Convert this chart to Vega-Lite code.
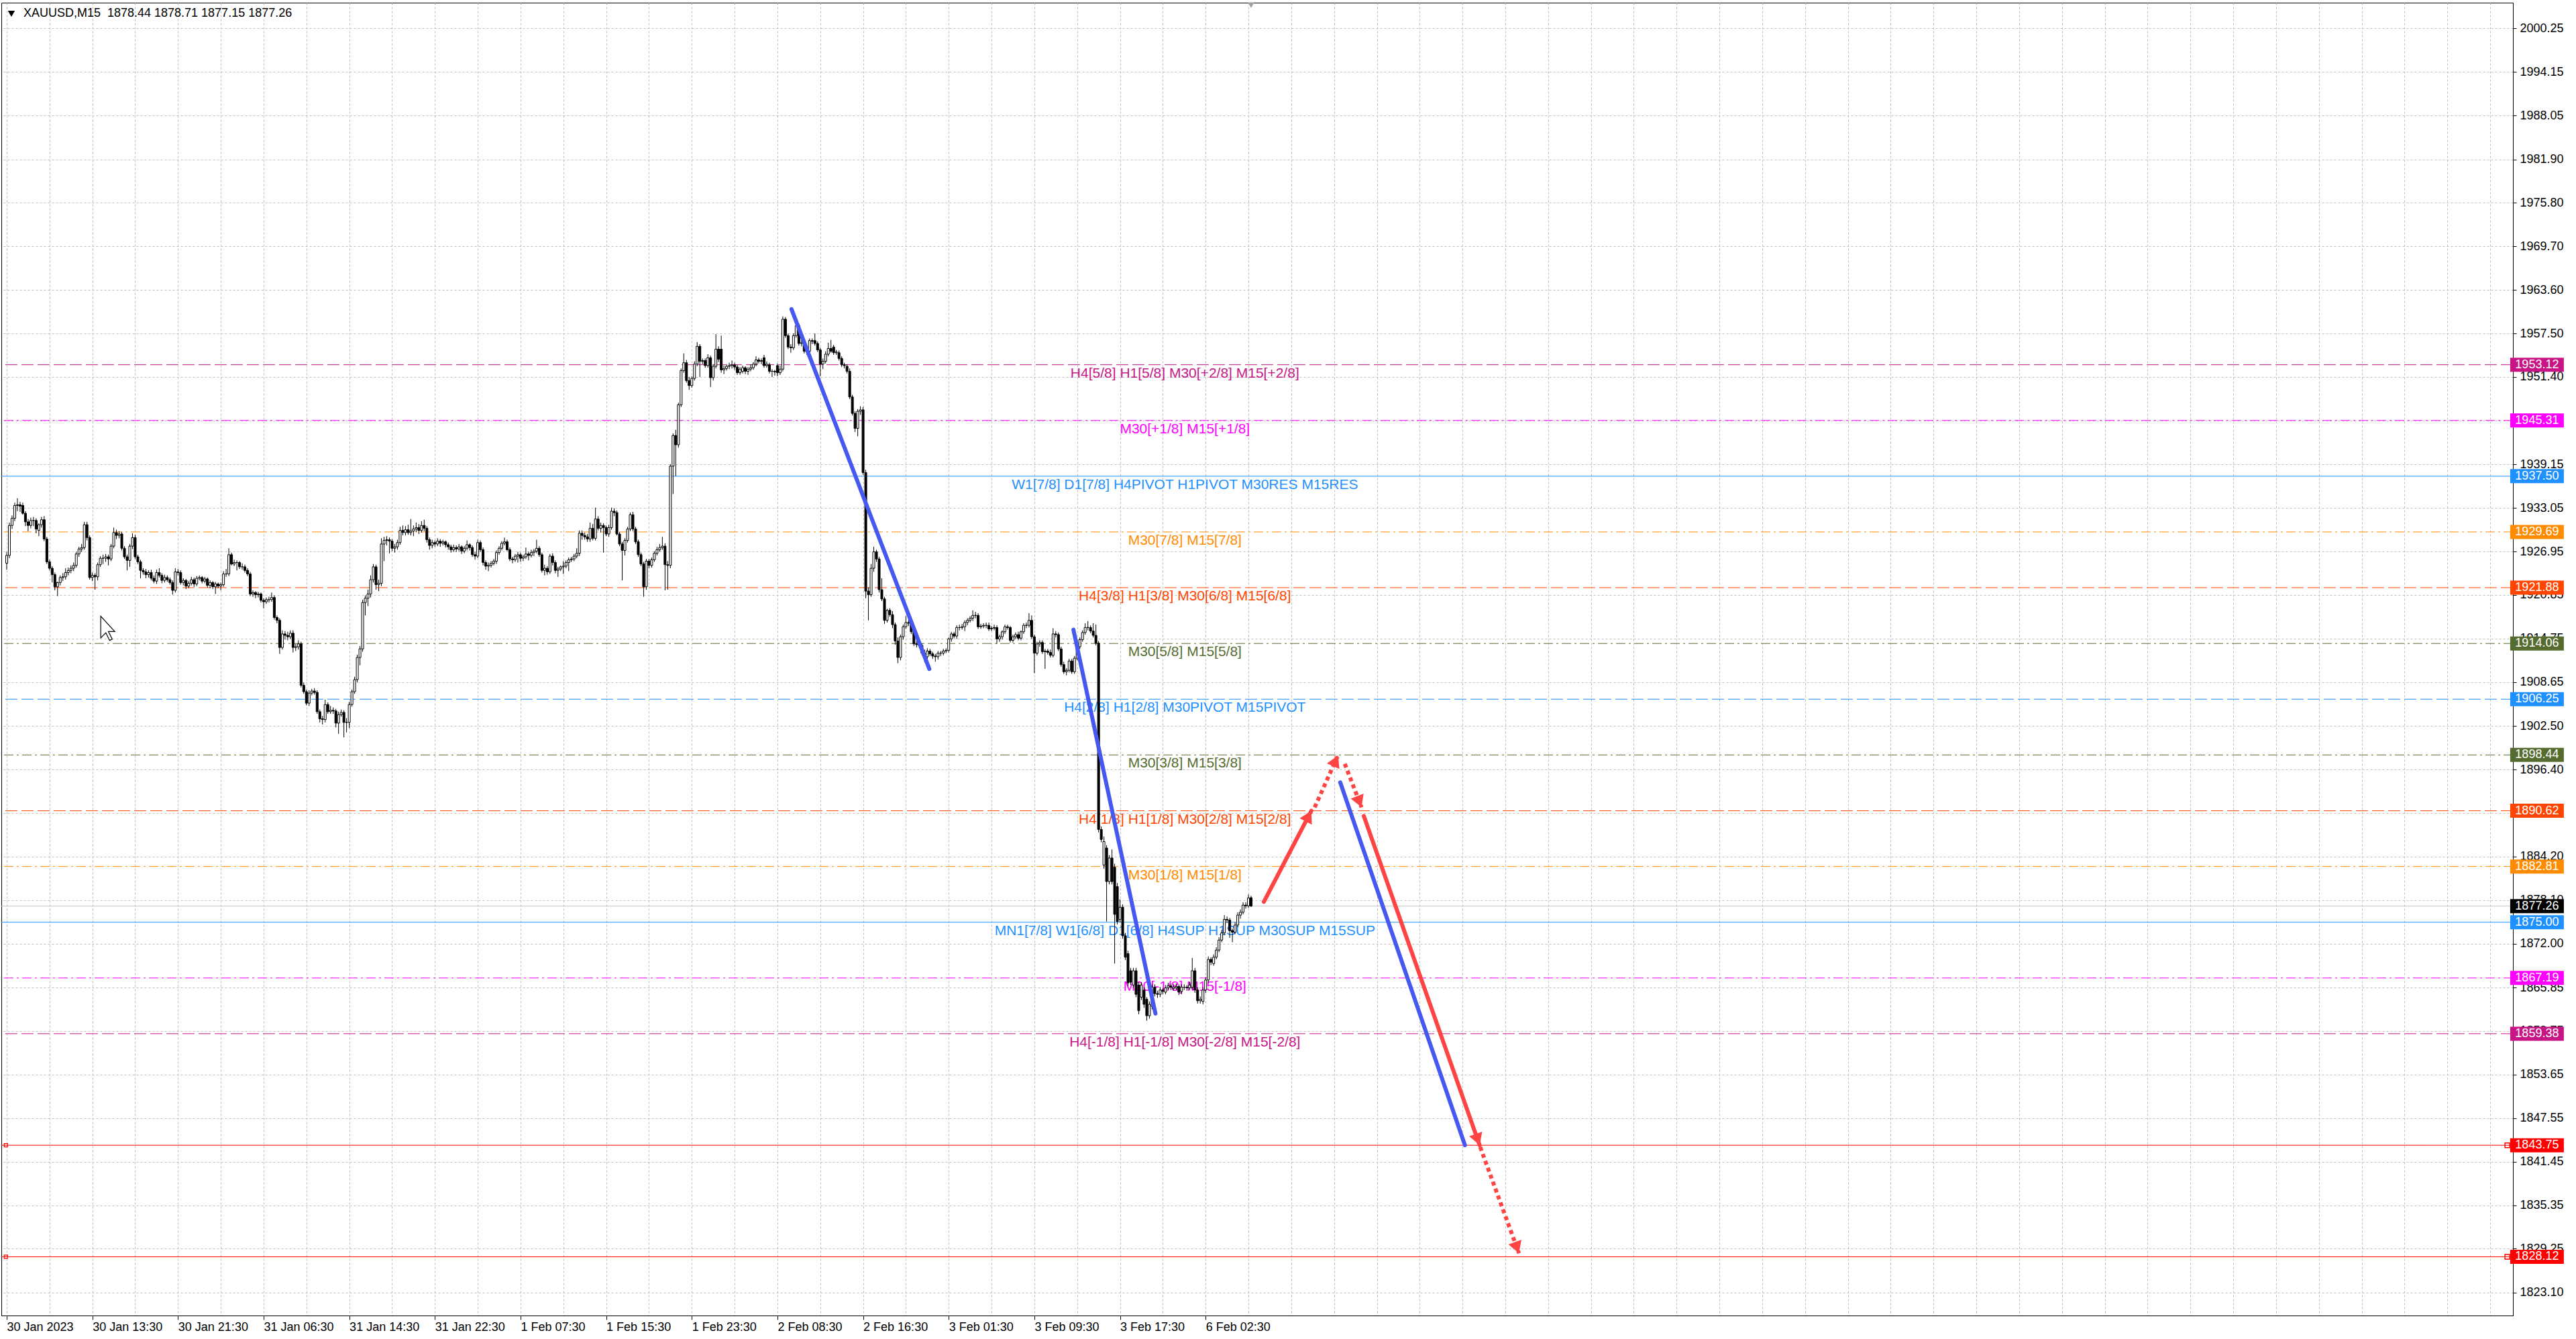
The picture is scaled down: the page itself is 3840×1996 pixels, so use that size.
{
"$schema":"https://vega.github.io/schema/vega-lite/v6.json",
"width":3744,"height":1957,
"autosize":{"type":"none"},
"padding":{"left":2,"top":4,"right":94,"bottom":35},
"background":"white",
"config":{"view":{"stroke":"black","strokeWidth":1},"font":"Liberation Sans"},
"datasets":{
"bars":[
{"i":0,"o":1925.3,"h":1926.9,"l":1924.4,"c":1926.4},{"i":1,"o":1926.4,"h":1931.0,"l":1926.0,"c":1930.6},{"i":2,"o":1930.6,"h":1932.0,"l":1930.1,"c":1931.6},{"i":3,"o":1931.6,"h":1933.8,"l":1931.2,"c":1933.4},{"i":4,"o":1933.4,"h":1934.4,"l":1932.6,"c":1933.5},{"i":5,"o":1933.5,"h":1933.9,"l":1932.5,"c":1933.3},{"i":6,"o":1933.4,"h":1933.8,"l":1932.1,"c":1932.3},{"i":7,"o":1932.3,"h":1932.6,"l":1930.5,"c":1931.1},{"i":8,"o":1931.1,"h":1931.5,"l":1929.8,"c":1930.6},{"i":9,"o":1930.6,"h":1931.7,"l":1930.2,"c":1931.3},
{"i":10,"o":1931.3,"h":1931.8,"l":1930.5,"c":1931.3},{"i":11,"o":1931.3,"h":1931.6,"l":1929.5,"c":1930.1},{"i":12,"o":1929.9,"h":1930.9,"l":1929.1,"c":1930.7},{"i":13,"o":1930.7,"h":1931.8,"l":1930.3,"c":1931.4},{"i":14,"o":1931.4,"h":1931.9,"l":1928.4,"c":1928.7},{"i":15,"o":1928.7,"h":1929.0,"l":1925.2,"c":1925.5},{"i":16,"o":1925.5,"h":1925.8,"l":1924.3,"c":1924.6},{"i":17,"o":1924.6,"h":1924.9,"l":1922.6,"c":1923.7},{"i":18,"o":1923.7,"h":1924.0,"l":1921.5,"c":1922.0},{"i":19,"o":1922.0,"h":1922.7,"l":1920.7,"c":1922.6},
{"i":20,"o":1922.6,"h":1923.6,"l":1922.2,"c":1923.3},{"i":21,"o":1923.3,"h":1923.9,"l":1922.8,"c":1923.4},{"i":22,"o":1923.4,"h":1924.6,"l":1923.0,"c":1924.0},{"i":23,"o":1924.0,"h":1924.7,"l":1923.6,"c":1924.3},{"i":24,"o":1924.3,"h":1925.0,"l":1923.9,"c":1924.6},{"i":25,"o":1924.6,"h":1925.4,"l":1924.2,"c":1925.0},{"i":26,"o":1925.0,"h":1926.9,"l":1924.7,"c":1926.6},{"i":27,"o":1926.6,"h":1927.6,"l":1926.2,"c":1927.3},{"i":28,"o":1927.3,"h":1928.0,"l":1926.9,"c":1927.5},{"i":29,"o":1927.5,"h":1931.1,"l":1927.2,"c":1930.7},
{"i":30,"o":1930.7,"h":1931.1,"l":1928.5,"c":1928.9},{"i":31,"o":1928.9,"h":1929.2,"l":1923.0,"c":1923.3},{"i":32,"o":1923.3,"h":1924.0,"l":1922.8,"c":1923.6},{"i":33,"o":1923.6,"h":1923.9,"l":1921.6,"c":1923.4},{"i":34,"o":1923.4,"h":1925.4,"l":1922.9,"c":1925.1},{"i":35,"o":1925.1,"h":1926.3,"l":1924.8,"c":1926.0},{"i":36,"o":1926.0,"h":1926.5,"l":1925.2,"c":1926.0},{"i":37,"o":1926.0,"h":1926.6,"l":1925.5,"c":1926.2},{"i":38,"o":1926.2,"h":1926.5,"l":1925.0,"c":1925.9},{"i":39,"o":1925.9,"h":1928.0,"l":1925.6,"c":1927.7},
{"i":40,"o":1927.7,"h":1930.3,"l":1927.4,"c":1929.6},{"i":41,"o":1929.6,"h":1930.0,"l":1928.7,"c":1929.2},{"i":42,"o":1929.2,"h":1929.8,"l":1928.8,"c":1929.4},{"i":43,"o":1929.4,"h":1929.7,"l":1927.1,"c":1927.4},{"i":44,"o":1927.4,"h":1927.7,"l":1925.9,"c":1926.2},{"i":45,"o":1926.2,"h":1926.5,"l":1924.3,"c":1925.7},{"i":46,"o":1925.7,"h":1928.0,"l":1924.8,"c":1927.7},{"i":47,"o":1927.7,"h":1929.5,"l":1927.3,"c":1928.9},{"i":48,"o":1928.9,"h":1929.3,"l":1925.9,"c":1926.2},{"i":49,"o":1926.2,"h":1926.5,"l":1925.2,"c":1925.5},
{"i":50,"o":1925.5,"h":1925.8,"l":1923.2,"c":1924.3},{"i":51,"o":1924.3,"h":1924.6,"l":1923.7,"c":1924.1},{"i":52,"o":1924.1,"h":1924.5,"l":1923.2,"c":1923.7},{"i":53,"o":1923.7,"h":1924.3,"l":1923.3,"c":1924.0},{"i":54,"o":1924.0,"h":1924.4,"l":1922.9,"c":1923.2},{"i":55,"o":1923.2,"h":1923.6,"l":1922.5,"c":1922.8},{"i":56,"o":1922.8,"h":1924.4,"l":1922.4,"c":1924.0},{"i":57,"o":1924.0,"h":1924.6,"l":1923.3,"c":1923.6},{"i":58,"o":1923.6,"h":1923.9,"l":1922.5,"c":1922.9},{"i":59,"o":1922.9,"h":1923.7,"l":1922.6,"c":1923.3},
{"i":60,"o":1923.3,"h":1923.6,"l":1922.7,"c":1923.0},{"i":61,"o":1923.0,"h":1923.3,"l":1922.3,"c":1922.6},{"i":62,"o":1922.6,"h":1922.9,"l":1920.9,"c":1921.5},{"i":63,"o":1921.5,"h":1924.6,"l":1921.2,"c":1924.1},{"i":64,"o":1924.1,"h":1924.5,"l":1923.6,"c":1924.0},{"i":65,"o":1924.0,"h":1924.3,"l":1922.3,"c":1922.6},{"i":66,"o":1922.6,"h":1923.2,"l":1922.2,"c":1922.9},{"i":67,"o":1922.9,"h":1923.1,"l":1921.7,"c":1922.1},{"i":68,"o":1922.1,"h":1922.8,"l":1921.8,"c":1922.5},{"i":69,"o":1922.5,"h":1923.4,"l":1922.2,"c":1923.0},
{"i":70,"o":1923.0,"h":1923.3,"l":1922.0,"c":1922.4},{"i":71,"o":1922.4,"h":1923.5,"l":1922.1,"c":1923.2},{"i":72,"o":1923.2,"h":1923.6,"l":1922.9,"c":1923.3},{"i":73,"o":1923.3,"h":1923.5,"l":1922.5,"c":1922.8},{"i":74,"o":1922.8,"h":1923.4,"l":1922.5,"c":1923.1},{"i":75,"o":1923.1,"h":1923.3,"l":1921.9,"c":1922.2},{"i":76,"o":1922.2,"h":1922.9,"l":1921.8,"c":1922.6},{"i":77,"o":1922.6,"h":1922.8,"l":1921.7,"c":1922.0},{"i":78,"o":1922.0,"h":1922.7,"l":1921.0,"c":1922.4},{"i":79,"o":1922.4,"h":1922.6,"l":1921.8,"c":1922.1},
{"i":80,"o":1922.1,"h":1922.6,"l":1921.5,"c":1922.3},{"i":81,"o":1922.3,"h":1924.2,"l":1922.0,"c":1923.8},{"i":82,"o":1923.8,"h":1924.5,"l":1923.4,"c":1923.8},{"i":83,"o":1923.8,"h":1927.4,"l":1923.5,"c":1926.5},{"i":84,"o":1926.5,"h":1926.8,"l":1925.0,"c":1925.2},{"i":85,"o":1925.2,"h":1925.8,"l":1924.9,"c":1925.4},{"i":86,"o":1925.4,"h":1925.7,"l":1924.3,"c":1925.4},{"i":87,"o":1925.4,"h":1925.6,"l":1924.5,"c":1924.8},{"i":88,"o":1924.8,"h":1925.3,"l":1924.4,"c":1924.8},{"i":89,"o":1924.8,"h":1925.1,"l":1924.0,"c":1924.3},
{"i":90,"o":1924.3,"h":1924.6,"l":1923.5,"c":1923.8},{"i":91,"o":1923.8,"h":1924.1,"l":1920.7,"c":1921.0},{"i":92,"o":1921.0,"h":1921.5,"l":1920.6,"c":1921.2},{"i":93,"o":1921.2,"h":1921.4,"l":1920.4,"c":1920.9},{"i":94,"o":1920.9,"h":1921.3,"l":1920.5,"c":1921.0},{"i":95,"o":1921.0,"h":1921.2,"l":1919.8,"c":1920.1},{"i":96,"o":1920.1,"h":1920.4,"l":1919.0,"c":1919.9},{"i":97,"o":1919.9,"h":1920.5,"l":1919.6,"c":1920.2},{"i":98,"o":1920.2,"h":1920.6,"l":1919.8,"c":1920.2},{"i":99,"o":1920.2,"h":1921.2,"l":1919.9,"c":1920.5},
{"i":100,"o":1920.5,"h":1920.8,"l":1917.4,"c":1917.7},{"i":101,"o":1917.7,"h":1918.0,"l":1916.9,"c":1917.3},{"i":102,"o":1917.3,"h":1917.6,"l":1912.6,"c":1913.5},{"i":103,"o":1913.5,"h":1915.9,"l":1913.2,"c":1915.4},{"i":104,"o":1915.4,"h":1915.8,"l":1914.6,"c":1915.2},{"i":105,"o":1915.2,"h":1915.7,"l":1914.5,"c":1915.0},{"i":106,"o":1915.0,"h":1915.9,"l":1914.7,"c":1915.5},{"i":107,"o":1915.5,"h":1915.9,"l":1912.8,"c":1913.5},{"i":108,"o":1913.5,"h":1914.0,"l":1913.0,"c":1913.6},{"i":109,"o":1913.6,"h":1914.5,"l":1913.2,"c":1914.0},
{"i":110,"o":1914.0,"h":1914.3,"l":1907.9,"c":1908.2},{"i":111,"o":1908.2,"h":1908.6,"l":1907.0,"c":1907.3},{"i":112,"o":1907.3,"h":1907.6,"l":1905.4,"c":1905.7},{"i":113,"o":1905.7,"h":1907.5,"l":1905.3,"c":1907.1},{"i":114,"o":1907.1,"h":1907.7,"l":1906.8,"c":1907.4},{"i":115,"o":1907.4,"h":1907.8,"l":1906.9,"c":1907.2},{"i":116,"o":1907.2,"h":1907.5,"l":1904.2,"c":1904.5},{"i":117,"o":1904.5,"h":1904.8,"l":1903.0,"c":1903.5},{"i":118,"o":1903.5,"h":1903.9,"l":1902.7,"c":1903.4},{"i":119,"o":1903.4,"h":1906.2,"l":1903.0,"c":1905.5},
{"i":120,"o":1905.5,"h":1905.8,"l":1904.2,"c":1904.5},{"i":121,"o":1904.5,"h":1905.3,"l":1904.2,"c":1904.7},{"i":122,"o":1904.7,"h":1905.1,"l":1904.2,"c":1904.6},{"i":123,"o":1904.6,"h":1904.9,"l":1902.3,"c":1902.9},{"i":124,"o":1902.9,"h":1904.5,"l":1901.4,"c":1904.1},{"i":125,"o":1904.1,"h":1904.8,"l":1903.8,"c":1904.4},{"i":126,"o":1904.4,"h":1904.7,"l":1900.9,"c":1903.0},{"i":127,"o":1903.0,"h":1903.6,"l":1901.6,"c":1903.0},{"i":128,"o":1903.0,"h":1905.9,"l":1902.2,"c":1905.5},{"i":129,"o":1905.5,"h":1907.6,"l":1905.2,"c":1907.3},
{"i":130,"o":1907.3,"h":1909.4,"l":1907.0,"c":1909.0},{"i":131,"o":1909.0,"h":1912.5,"l":1908.6,"c":1912.1},{"i":132,"o":1912.1,"h":1913.7,"l":1911.0,"c":1913.3},{"i":133,"o":1913.3,"h":1920.2,"l":1912.9,"c":1919.8},{"i":134,"o":1919.8,"h":1920.8,"l":1918.0,"c":1920.4},{"i":135,"o":1920.4,"h":1921.6,"l":1919.3,"c":1921.0},{"i":136,"o":1921.0,"h":1923.6,"l":1920.5,"c":1923.0},{"i":137,"o":1923.0,"h":1925.2,"l":1922.6,"c":1924.8},{"i":138,"o":1924.8,"h":1925.1,"l":1921.6,"c":1922.3},{"i":139,"o":1922.3,"h":1923.0,"l":1921.4,"c":1922.5},
{"i":140,"o":1922.5,"h":1928.8,"l":1922.1,"c":1928.0},{"i":141,"o":1928.0,"h":1929.0,"l":1925.6,"c":1928.5},{"i":142,"o":1928.5,"h":1929.1,"l":1927.8,"c":1928.6},{"i":143,"o":1928.6,"h":1928.9,"l":1926.7,"c":1928.4},{"i":144,"o":1928.4,"h":1928.7,"l":1927.0,"c":1927.4},{"i":145,"o":1927.4,"h":1928.0,"l":1926.8,"c":1927.6},{"i":146,"o":1927.6,"h":1928.6,"l":1927.2,"c":1928.2},{"i":147,"o":1928.2,"h":1930.4,"l":1927.9,"c":1929.9},{"i":148,"o":1929.9,"h":1930.6,"l":1929.2,"c":1929.6},{"i":149,"o":1929.6,"h":1930.5,"l":1929.2,"c":1930.0},
{"i":150,"o":1930.0,"h":1930.7,"l":1929.3,"c":1929.6},{"i":151,"o":1929.6,"h":1931.5,"l":1929.2,"c":1929.8},{"i":152,"o":1929.8,"h":1930.6,"l":1929.1,"c":1930.1},{"i":153,"o":1930.1,"h":1931.0,"l":1929.7,"c":1930.3},{"i":154,"o":1930.3,"h":1930.8,"l":1929.4,"c":1929.9},{"i":155,"o":1929.9,"h":1931.2,"l":1929.6,"c":1930.6},{"i":156,"o":1930.6,"h":1931.4,"l":1929.8,"c":1930.2},{"i":157,"o":1930.2,"h":1930.5,"l":1928.2,"c":1928.6},{"i":158,"o":1928.6,"h":1928.9,"l":1927.2,"c":1927.8},{"i":159,"o":1927.8,"h":1928.6,"l":1927.4,"c":1928.2},
{"i":160,"o":1928.2,"h":1928.5,"l":1927.6,"c":1928.0},{"i":161,"o":1928.0,"h":1928.8,"l":1927.7,"c":1928.4},{"i":162,"o":1928.4,"h":1928.7,"l":1927.6,"c":1928.1},{"i":163,"o":1928.1,"h":1928.6,"l":1927.8,"c":1928.3},{"i":164,"o":1928.3,"h":1928.5,"l":1927.5,"c":1927.9},{"i":165,"o":1927.9,"h":1928.2,"l":1927.2,"c":1927.6},{"i":166,"o":1927.6,"h":1927.9,"l":1926.8,"c":1927.2},{"i":167,"o":1927.2,"h":1927.9,"l":1926.9,"c":1927.5},{"i":168,"o":1927.5,"h":1927.8,"l":1926.9,"c":1927.3},{"i":169,"o":1927.3,"h":1928.0,"l":1927.0,"c":1927.6},
{"i":170,"o":1927.6,"h":1927.8,"l":1926.6,"c":1927.0},{"i":171,"o":1927.0,"h":1927.7,"l":1926.7,"c":1927.4},{"i":172,"o":1927.4,"h":1928.5,"l":1927.1,"c":1927.9},{"i":173,"o":1927.9,"h":1928.1,"l":1927.1,"c":1927.5},{"i":174,"o":1927.5,"h":1927.8,"l":1926.2,"c":1926.5},{"i":175,"o":1926.5,"h":1926.9,"l":1925.8,"c":1926.3},{"i":176,"o":1926.3,"h":1928.6,"l":1926.0,"c":1928.2},{"i":177,"o":1928.2,"h":1928.5,"l":1926.9,"c":1927.2},{"i":178,"o":1927.2,"h":1927.5,"l":1925.0,"c":1925.4},{"i":179,"o":1925.4,"h":1925.7,"l":1924.4,"c":1924.9},
{"i":180,"o":1924.9,"h":1925.4,"l":1924.2,"c":1925.0},{"i":181,"o":1925.0,"h":1925.6,"l":1924.7,"c":1925.3},{"i":182,"o":1925.3,"h":1925.9,"l":1925.0,"c":1925.6},{"i":183,"o":1925.6,"h":1927.1,"l":1925.2,"c":1926.8},{"i":184,"o":1926.8,"h":1927.7,"l":1926.5,"c":1927.4},{"i":185,"o":1927.4,"h":1928.4,"l":1927.1,"c":1928.1},{"i":186,"o":1928.1,"h":1928.9,"l":1927.8,"c":1928.3},{"i":187,"o":1928.3,"h":1928.6,"l":1927.0,"c":1927.2},{"i":188,"o":1927.2,"h":1927.5,"l":1925.6,"c":1925.9},{"i":189,"o":1925.9,"h":1926.2,"l":1925.3,"c":1925.8},
{"i":190,"o":1925.8,"h":1926.6,"l":1925.5,"c":1926.3},{"i":191,"o":1926.3,"h":1926.9,"l":1925.4,"c":1926.5},{"i":192,"o":1926.5,"h":1926.8,"l":1925.5,"c":1926.0},{"i":193,"o":1926.0,"h":1926.5,"l":1925.6,"c":1926.2},{"i":194,"o":1926.2,"h":1927.5,"l":1925.9,"c":1926.6},{"i":195,"o":1926.6,"h":1926.9,"l":1925.7,"c":1926.4},{"i":196,"o":1926.4,"h":1927.2,"l":1926.1,"c":1926.8},{"i":197,"o":1926.8,"h":1927.3,"l":1926.3,"c":1927.0},{"i":198,"o":1927.0,"h":1928.6,"l":1926.7,"c":1927.4},{"i":199,"o":1927.4,"h":1927.7,"l":1926.2,"c":1926.5},
{"i":200,"o":1926.5,"h":1926.8,"l":1924.0,"c":1924.3},{"i":201,"o":1924.3,"h":1925.1,"l":1923.6,"c":1924.6},{"i":202,"o":1924.6,"h":1924.9,"l":1923.7,"c":1924.1},{"i":203,"o":1924.1,"h":1926.6,"l":1923.8,"c":1926.3},{"i":204,"o":1926.3,"h":1926.7,"l":1925.0,"c":1925.4},{"i":205,"o":1925.4,"h":1925.7,"l":1923.9,"c":1924.3},{"i":206,"o":1924.3,"h":1924.8,"l":1923.4,"c":1924.5},{"i":207,"o":1924.5,"h":1925.0,"l":1924.2,"c":1924.8},{"i":208,"o":1924.8,"h":1925.6,"l":1923.8,"c":1924.9},{"i":209,"o":1924.9,"h":1925.7,"l":1924.6,"c":1925.4},
{"i":210,"o":1925.4,"h":1926.1,"l":1924.2,"c":1925.8},{"i":211,"o":1925.8,"h":1926.2,"l":1925.5,"c":1925.9},{"i":212,"o":1925.9,"h":1926.6,"l":1925.6,"c":1926.3},{"i":213,"o":1926.3,"h":1927.4,"l":1926.0,"c":1926.7},{"i":214,"o":1926.7,"h":1929.9,"l":1926.3,"c":1929.5},{"i":215,"o":1929.5,"h":1929.9,"l":1928.6,"c":1929.2},{"i":216,"o":1929.2,"h":1929.6,"l":1928.6,"c":1929.0},{"i":217,"o":1929.0,"h":1929.4,"l":1928.3,"c":1928.7},{"i":218,"o":1928.7,"h":1931.0,"l":1928.3,"c":1930.2},{"i":219,"o":1930.2,"h":1930.8,"l":1928.5,"c":1928.8},
{"i":220,"o":1928.8,"h":1933.1,"l":1928.5,"c":1931.5},{"i":221,"o":1931.5,"h":1931.9,"l":1929.9,"c":1930.2},{"i":222,"o":1930.2,"h":1931.0,"l":1929.6,"c":1930.6},{"i":223,"o":1930.6,"h":1930.9,"l":1926.8,"c":1930.3},{"i":224,"o":1930.3,"h":1930.6,"l":1929.1,"c":1929.4},{"i":225,"o":1929.4,"h":1930.7,"l":1929.0,"c":1930.3},{"i":226,"o":1930.3,"h":1933.1,"l":1930.0,"c":1932.6},{"i":227,"o":1932.6,"h":1933.0,"l":1931.9,"c":1932.4},{"i":228,"o":1932.4,"h":1932.7,"l":1929.2,"c":1929.4},{"i":229,"o":1929.4,"h":1929.7,"l":1927.7,"c":1928.0},
{"i":230,"o":1928.0,"h":1928.3,"l":1922.9,"c":1927.1},{"i":231,"o":1927.1,"h":1928.8,"l":1926.4,"c":1928.5},{"i":232,"o":1928.5,"h":1930.4,"l":1928.2,"c":1930.1},{"i":233,"o":1930.1,"h":1932.4,"l":1929.8,"c":1932.1},{"i":234,"o":1932.1,"h":1932.5,"l":1929.8,"c":1930.1},{"i":235,"o":1930.1,"h":1930.4,"l":1928.0,"c":1928.3},{"i":236,"o":1928.3,"h":1928.6,"l":1926.2,"c":1926.5},{"i":237,"o":1926.5,"h":1926.8,"l":1924.9,"c":1925.2},{"i":238,"o":1925.2,"h":1925.5,"l":1920.6,"c":1922.0},{"i":239,"o":1922.0,"h":1925.9,"l":1921.6,"c":1925.6},
{"i":240,"o":1925.6,"h":1925.9,"l":1924.6,"c":1925.0},{"i":241,"o":1925.0,"h":1926.1,"l":1924.7,"c":1925.8},{"i":242,"o":1925.8,"h":1927.0,"l":1925.5,"c":1926.7},{"i":243,"o":1926.7,"h":1927.6,"l":1926.4,"c":1927.2},{"i":244,"o":1927.2,"h":1928.0,"l":1926.9,"c":1927.5},{"i":245,"o":1927.5,"h":1929.0,"l":1927.2,"c":1927.7},{"i":246,"o":1927.7,"h":1928.1,"l":1921.5,"c":1925.1},{"i":247,"o":1925.1,"h":1925.6,"l":1921.6,"c":1925.0},{"i":248,"o":1925.0,"h":1939.2,"l":1924.6,"c":1938.9},{"i":249,"o":1938.9,"h":1943.5,"l":1935.0,"c":1943.2},
{"i":250,"o":1943.2,"h":1944.0,"l":1937.5,"c":1941.9},{"i":251,"o":1941.9,"h":1947.8,"l":1941.5,"c":1947.5},{"i":252,"o":1947.5,"h":1952.6,"l":1947.2,"c":1952.3},{"i":253,"o":1952.3,"h":1954.7,"l":1952.0,"c":1953.4},{"i":254,"o":1953.4,"h":1953.8,"l":1950.6,"c":1950.9},{"i":255,"o":1950.9,"h":1951.4,"l":1949.6,"c":1950.2},{"i":256,"o":1950.2,"h":1951.5,"l":1949.9,"c":1951.2},{"i":257,"o":1951.2,"h":1953.6,"l":1950.9,"c":1953.2},{"i":258,"o":1953.2,"h":1956.3,"l":1952.9,"c":1955.7},{"i":259,"o":1955.7,"h":1956.0,"l":1951.4,"c":1953.6},
{"i":260,"o":1953.6,"h":1954.0,"l":1953.2,"c":1953.7},{"i":261,"o":1953.7,"h":1954.0,"l":1952.7,"c":1953.0},{"i":262,"o":1953.0,"h":1954.6,"l":1952.7,"c":1954.1},{"i":263,"o":1954.1,"h":1954.4,"l":1950.0,"c":1951.3},{"i":264,"o":1951.3,"h":1953.2,"l":1950.9,"c":1952.9},{"i":265,"o":1952.9,"h":1957.4,"l":1952.6,"c":1955.3},{"i":266,"o":1955.3,"h":1955.7,"l":1953.5,"c":1953.9},{"i":267,"o":1955.3,"h":1957.2,"l":1952.0,"c":1952.4},{"i":268,"o":1952.4,"h":1953.0,"l":1951.8,"c":1952.6},{"i":269,"o":1952.6,"h":1953.2,"l":1952.3,"c":1952.9},
{"i":270,"o":1952.9,"h":1953.4,"l":1952.5,"c":1953.0},{"i":271,"o":1953.0,"h":1953.7,"l":1952.6,"c":1953.1},{"i":272,"o":1953.1,"h":1953.4,"l":1952.4,"c":1952.8},{"i":273,"o":1952.8,"h":1953.1,"l":1951.7,"c":1952.0},{"i":274,"o":1952.0,"h":1952.8,"l":1951.7,"c":1952.5},{"i":275,"o":1952.2,"h":1953.0,"l":1951.9,"c":1952.7},{"i":276,"o":1952.7,"h":1952.9,"l":1951.8,"c":1952.2},{"i":277,"o":1952.2,"h":1952.8,"l":1951.7,"c":1952.5},{"i":278,"o":1952.5,"h":1953.2,"l":1952.2,"c":1952.7},{"i":279,"o":1952.7,"h":1953.5,"l":1952.4,"c":1953.2},
{"i":280,"o":1953.2,"h":1954.3,"l":1952.9,"c":1953.8},{"i":281,"o":1953.8,"h":1954.1,"l":1953.3,"c":1953.6},{"i":282,"o":1953.6,"h":1954.0,"l":1953.2,"c":1953.7},{"i":283,"o":1954.1,"h":1954.5,"l":1952.7,"c":1953.0},{"i":284,"o":1953.0,"h":1953.6,"l":1952.7,"c":1953.2},{"i":285,"o":1953.1,"h":1953.4,"l":1951.9,"c":1952.2},{"i":286,"o":1952.2,"h":1952.5,"l":1951.4,"c":1952.2},{"i":287,"o":1952.2,"h":1952.4,"l":1951.6,"c":1952.1},{"i":288,"o":1953.0,"h":1953.3,"l":1951.5,"c":1952.0},{"i":289,"o":1952.0,"h":1953.0,"l":1951.7,"c":1952.5},
{"i":290,"o":1952.5,"h":1959.9,"l":1952.2,"c":1959.5},{"i":291,"o":1959.5,"h":1959.8,"l":1956.9,"c":1957.2},{"i":292,"o":1957.2,"h":1957.5,"l":1955.3,"c":1955.6},{"i":293,"o":1955.6,"h":1956.0,"l":1954.8,"c":1955.5},{"i":294,"o":1955.5,"h":1957.5,"l":1955.2,"c":1957.2},{"i":295,"o":1957.2,"h":1959.4,"l":1956.9,"c":1958.6},{"i":296,"o":1958.6,"h":1958.9,"l":1955.8,"c":1956.1},{"i":297,"o":1956.1,"h":1956.6,"l":1955.7,"c":1956.2},{"i":298,"o":1956.2,"h":1956.5,"l":1954.7,"c":1955.0},{"i":299,"o":1955.0,"h":1955.4,"l":1954.5,"c":1955.0},
{"i":300,"o":1955.0,"h":1956.8,"l":1954.7,"c":1956.5},{"i":301,"o":1956.5,"h":1956.8,"l":1956.0,"c":1956.4},{"i":302,"o":1956.5,"h":1957.5,"l":1955.8,"c":1956.1},{"i":303,"o":1956.1,"h":1956.4,"l":1954.9,"c":1955.2},{"i":304,"o":1955.2,"h":1955.5,"l":1951.5,"c":1953.2},{"i":305,"o":1953.2,"h":1954.0,"l":1952.5,"c":1953.6},{"i":306,"o":1953.6,"h":1955.0,"l":1953.3,"c":1954.6},{"i":307,"o":1954.6,"h":1956.2,"l":1954.3,"c":1955.4},{"i":308,"o":1955.4,"h":1956.6,"l":1954.8,"c":1955.0},{"i":309,"o":1955.6,"h":1955.9,"l":1954.5,"c":1954.8},
{"i":310,"o":1954.8,"h":1955.2,"l":1954.5,"c":1954.9},{"i":311,"o":1954.8,"h":1955.1,"l":1953.7,"c":1954.0},{"i":312,"o":1954.0,"h":1954.3,"l":1952.8,"c":1953.1},{"i":313,"o":1953.1,"h":1953.4,"l":1952.6,"c":1953.0},{"i":314,"o":1952.9,"h":1953.2,"l":1951.9,"c":1952.2},{"i":315,"o":1952.2,"h":1952.6,"l":1948.3,"c":1948.6},{"i":316,"o":1948.6,"h":1948.9,"l":1946.0,"c":1946.3},{"i":317,"o":1946.3,"h":1946.6,"l":1943.7,"c":1944.2},{"i":318,"o":1944.2,"h":1946.9,"l":1943.1,"c":1946.6},{"i":319,"o":1946.6,"h":1947.3,"l":1946.1,"c":1946.8},
{"i":320,"o":1946.8,"h":1947.2,"l":1937.7,"c":1938.0},{"i":321,"o":1938.0,"h":1938.4,"l":1920.4,"c":1921.4},{"i":322,"o":1921.4,"h":1921.9,"l":1917.3,"c":1920.9},{"i":323,"o":1920.9,"h":1925.2,"l":1920.6,"c":1924.6},{"i":324,"o":1924.6,"h":1927.6,"l":1924.1,"c":1926.9},{"i":325,"o":1926.9,"h":1927.2,"l":1925.5,"c":1925.9},{"i":326,"o":1925.9,"h":1926.2,"l":1921.2,"c":1921.6},{"i":327,"o":1921.6,"h":1923.2,"l":1920.0,"c":1920.3},{"i":328,"o":1920.3,"h":1920.6,"l":1916.8,"c":1917.3},{"i":329,"o":1917.3,"h":1918.9,"l":1917.0,"c":1918.7},
{"i":330,"o":1918.7,"h":1919.0,"l":1917.8,"c":1918.1},{"i":331,"o":1918.1,"h":1918.6,"l":1916.2,"c":1916.7},{"i":332,"o":1916.7,"h":1917.0,"l":1913.9,"c":1914.4},{"i":333,"o":1914.4,"h":1914.9,"l":1911.3,"c":1912.1},{"i":334,"o":1912.1,"h":1915.3,"l":1911.7,"c":1915.0},{"i":335,"o":1915.0,"h":1916.7,"l":1914.6,"c":1916.4},{"i":336,"o":1916.4,"h":1917.9,"l":1916.1,"c":1917.0},{"i":337,"o":1917.0,"h":1917.4,"l":1916.5,"c":1916.9},{"i":338,"o":1916.9,"h":1917.3,"l":1915.4,"c":1915.7},{"i":339,"o":1915.7,"h":1916.0,"l":1913.7,"c":1914.0},
{"i":340,"o":1914.0,"h":1914.4,"l":1913.5,"c":1913.9},{"i":341,"o":1913.9,"h":1914.2,"l":1913.4,"c":1913.8},{"i":342,"o":1913.8,"h":1914.1,"l":1912.4,"c":1912.7},{"i":343,"o":1912.7,"h":1913.2,"l":1911.4,"c":1912.2},{"i":344,"o":1912.2,"h":1913.4,"l":1911.9,"c":1913.0},{"i":345,"o":1913.0,"h":1913.3,"l":1912.3,"c":1912.6},{"i":346,"o":1912.6,"h":1912.9,"l":1911.9,"c":1912.3},{"i":347,"o":1912.3,"h":1912.6,"l":1911.5,"c":1912.2},{"i":348,"o":1912.2,"h":1913.0,"l":1911.8,"c":1912.7},{"i":349,"o":1912.7,"h":1913.0,"l":1912.3,"c":1912.7},
{"i":350,"o":1912.7,"h":1913.3,"l":1912.4,"c":1913.0},{"i":351,"o":1913.0,"h":1913.4,"l":1912.7,"c":1913.1},{"i":352,"o":1913.1,"h":1914.9,"l":1912.8,"c":1914.7},{"i":353,"o":1914.7,"h":1915.7,"l":1914.3,"c":1915.4},{"i":354,"o":1915.4,"h":1915.7,"l":1914.8,"c":1915.1},{"i":355,"o":1915.1,"h":1916.6,"l":1914.7,"c":1916.3},{"i":356,"o":1916.3,"h":1916.7,"l":1915.9,"c":1916.3},{"i":357,"o":1916.3,"h":1916.8,"l":1916.0,"c":1916.4},{"i":358,"o":1916.4,"h":1917.3,"l":1915.8,"c":1917.0},{"i":359,"o":1917.0,"h":1917.6,"l":1916.6,"c":1917.3},
{"i":360,"o":1917.3,"h":1917.9,"l":1917.0,"c":1917.6},{"i":361,"o":1917.6,"h":1918.7,"l":1917.2,"c":1918.0},{"i":362,"o":1918.0,"h":1918.5,"l":1917.6,"c":1918.0},{"i":363,"o":1918.0,"h":1918.3,"l":1916.1,"c":1916.4},{"i":364,"o":1916.4,"h":1916.8,"l":1916.1,"c":1916.5},{"i":365,"o":1916.5,"h":1916.9,"l":1916.2,"c":1916.6},{"i":366,"o":1916.6,"h":1917.0,"l":1916.2,"c":1916.6},{"i":367,"o":1916.6,"h":1917.0,"l":1915.8,"c":1916.1},{"i":368,"o":1916.1,"h":1916.5,"l":1915.8,"c":1916.2},{"i":369,"o":1916.2,"h":1916.7,"l":1915.9,"c":1916.3},
{"i":370,"o":1916.3,"h":1916.6,"l":1914.0,"c":1914.7},{"i":371,"o":1914.7,"h":1915.3,"l":1914.3,"c":1915.0},{"i":372,"o":1915.0,"h":1915.9,"l":1914.6,"c":1915.7},{"i":373,"o":1915.7,"h":1916.7,"l":1915.4,"c":1916.4},{"i":374,"o":1916.4,"h":1916.7,"l":1916.0,"c":1916.3},{"i":375,"o":1916.3,"h":1916.5,"l":1914.2,"c":1914.5},{"i":376,"o":1914.5,"h":1915.3,"l":1914.2,"c":1915.0},{"i":377,"o":1915.0,"h":1915.6,"l":1914.7,"c":1915.3},{"i":378,"o":1915.3,"h":1915.7,"l":1914.5,"c":1914.8},{"i":379,"o":1914.8,"h":1915.9,"l":1914.5,"c":1915.7},
{"i":380,"o":1915.7,"h":1916.9,"l":1915.4,"c":1916.6},{"i":381,"o":1916.6,"h":1917.0,"l":1916.2,"c":1916.6},{"i":382,"o":1916.6,"h":1918.3,"l":1916.3,"c":1917.3},{"i":383,"o":1917.3,"h":1918.0,"l":1914.7,"c":1915.0},{"i":384,"o":1915.0,"h":1915.3,"l":1909.9,"c":1912.7},{"i":385,"o":1912.7,"h":1914.3,"l":1912.4,"c":1914.0},{"i":386,"o":1914.0,"h":1914.5,"l":1913.6,"c":1914.2},{"i":387,"o":1914.2,"h":1914.5,"l":1912.6,"c":1912.9},{"i":388,"o":1912.9,"h":1913.3,"l":1910.5,"c":1913.0},{"i":389,"o":1913.0,"h":1913.3,"l":1912.5,"c":1912.8},
{"i":390,"o":1912.8,"h":1913.2,"l":1912.1,"c":1912.4},{"i":391,"o":1912.4,"h":1916.2,"l":1912.1,"c":1915.4},{"i":392,"o":1915.4,"h":1915.8,"l":1914.9,"c":1915.3},{"i":393,"o":1915.3,"h":1915.6,"l":1913.0,"c":1913.3},{"i":394,"o":1913.3,"h":1913.6,"l":1910.8,"c":1911.1},{"i":395,"o":1911.1,"h":1911.5,"l":1909.8,"c":1910.1},{"i":396,"o":1910.1,"h":1910.6,"l":1909.6,"c":1910.3},{"i":397,"o":1910.3,"h":1911.9,"l":1910.0,"c":1911.6},{"i":398,"o":1911.6,"h":1911.9,"l":1909.8,"c":1910.1},{"i":399,"o":1910.1,"h":1912.3,"l":1909.8,"c":1912.0},
{"i":400,"o":1912.0,"h":1913.9,"l":1911.7,"c":1913.6},{"i":401,"o":1913.6,"h":1914.9,"l":1913.3,"c":1914.6},{"i":402,"o":1914.6,"h":1915.9,"l":1914.3,"c":1915.6},{"i":403,"o":1915.6,"h":1916.9,"l":1915.3,"c":1916.3},{"i":404,"o":1916.3,"h":1917.2,"l":1915.9,"c":1916.3},{"i":405,"o":1916.3,"h":1916.6,"l":1915.5,"c":1915.8},{"i":406,"o":1915.8,"h":1916.9,"l":1914.9,"c":1915.2},{"i":407,"o":1915.2,"h":1916.7,"l":1913.8,"c":1914.1},{"i":408,"o":1914.1,"h":1914.4,"l":1887.6,"c":1888.0},{"i":409,"o":1888.0,"h":1888.4,"l":1886.2,"c":1886.6},
{"i":410,"o":1883.0,"h":1887.0,"l":1882.5,"c":1886.3},{"i":411,"o":1885.4,"h":1885.8,"l":1875.1,"c":1880.7},{"i":412,"o":1880.7,"h":1884.4,"l":1880.3,"c":1884.0},{"i":413,"o":1884.0,"h":1885.2,"l":1880.3,"c":1880.7},{"i":414,"o":1882.7,"h":1883.2,"l":1869.2,"c":1876.1},{"i":415,"o":1880.0,"h":1880.5,"l":1874.7,"c":1875.1},{"i":416,"o":1875.4,"h":1878.2,"l":1875.0,"c":1877.1},{"i":417,"o":1877.1,"h":1877.5,"l":1872.7,"c":1873.1},{"i":418,"o":1873.1,"h":1873.5,"l":1869.7,"c":1870.1},{"i":419,"o":1870.6,"h":1871.0,"l":1866.0,"c":1866.5},
{"i":420,"o":1868.2,"h":1868.6,"l":1866.2,"c":1866.6},{"i":421,"o":1866.2,"h":1868.6,"l":1865.8,"c":1868.2},{"i":422,"o":1868.2,"h":1868.6,"l":1864.5,"c":1864.9},{"i":423,"o":1866.2,"h":1866.6,"l":1862.1,"c":1862.6},{"i":424,"o":1864.5,"h":1866.6,"l":1864.1,"c":1866.2},{"i":425,"o":1865.5,"h":1865.9,"l":1863.0,"c":1863.5},{"i":426,"o":1864.2,"h":1864.5,"l":1861.2,"c":1861.9},{"i":427,"o":1861.9,"h":1863.9,"l":1861.5,"c":1863.5},{"i":428,"o":1863.2,"h":1866.3,"l":1862.8,"c":1865.9},{"i":429,"o":1865.9,"h":1866.3,"l":1864.6,"c":1865.0},
{"i":430,"o":1865.0,"h":1865.4,"l":1864.4,"c":1864.9},{"i":431,"o":1864.9,"h":1865.9,"l":1864.5,"c":1865.5},{"i":432,"o":1865.5,"h":1865.8,"l":1864.9,"c":1865.3},{"i":433,"o":1865.2,"h":1866.2,"l":1864.9,"c":1865.8},{"i":434,"o":1865.8,"h":1866.5,"l":1865.5,"c":1866.1},{"i":435,"o":1866.1,"h":1866.4,"l":1865.5,"c":1865.9},{"i":436,"o":1865.7,"h":1866.3,"l":1865.4,"c":1865.9},{"i":437,"o":1865.8,"h":1866.4,"l":1865.5,"c":1866.0},{"i":438,"o":1866.0,"h":1866.3,"l":1864.8,"c":1865.2},{"i":439,"o":1865.3,"h":1866.3,"l":1864.9,"c":1865.9},
{"i":440,"o":1865.9,"h":1866.3,"l":1865.5,"c":1865.9},{"i":441,"o":1865.9,"h":1866.2,"l":1865.4,"c":1865.8},{"i":442,"o":1865.8,"h":1866.6,"l":1865.5,"c":1866.2},{"i":443,"o":1865.9,"h":1870.0,"l":1865.6,"c":1868.2},{"i":444,"o":1868.2,"h":1868.6,"l":1865.1,"c":1865.5},{"i":445,"o":1865.5,"h":1865.9,"l":1863.6,"c":1864.0},{"i":446,"o":1864.0,"h":1864.6,"l":1863.6,"c":1864.2},{"i":447,"o":1863.9,"h":1865.9,"l":1863.5,"c":1865.5},{"i":448,"o":1865.5,"h":1867.3,"l":1865.1,"c":1866.9},{"i":449,"o":1866.9,"h":1870.2,"l":1866.5,"c":1869.8},
{"i":450,"o":1869.8,"h":1870.1,"l":1869.0,"c":1869.4},{"i":451,"o":1869.2,"h":1870.5,"l":1868.9,"c":1870.1},{"i":452,"o":1870.1,"h":1871.5,"l":1869.8,"c":1871.1},{"i":453,"o":1871.1,"h":1872.9,"l":1870.8,"c":1872.5},{"i":454,"o":1872.5,"h":1873.9,"l":1872.2,"c":1873.5},{"i":455,"o":1873.5,"h":1876.0,"l":1873.2,"c":1875.4},{"i":456,"o":1875.4,"h":1875.8,"l":1874.9,"c":1875.3},{"i":457,"o":1875.3,"h":1875.6,"l":1872.8,"c":1873.8},{"i":458,"o":1873.8,"h":1874.1,"l":1872.2,"c":1873.6},{"i":459,"o":1873.6,"h":1875.0,"l":1873.3,"c":1874.6},
{"i":460,"o":1874.6,"h":1876.4,"l":1874.3,"c":1876.0},{"i":461,"o":1876.0,"h":1876.8,"l":1875.5,"c":1876.4},{"i":462,"o":1876.4,"h":1877.8,"l":1876.1,"c":1877.4},{"i":463,"o":1877.4,"h":1877.8,"l":1876.9,"c":1877.3},{"i":464,"o":1877.3,"h":1878.9,"l":1877.0,"c":1878.4},{"i":465,"o":1878.44,"h":1878.71,"l":1877.15,"c":1877.26}
],
"levels":[
{"p":1953.12,"k":"+2/8","t":"H4[5/8] H1[5/8] M30[+2/8] M15[+2/8]"},
{"p":1945.31,"k":"+1/8","t":"M30[+1/8] M15[+1/8]"},
{"p":1937.50,"k":"8/8","t":"W1[7/8] D1[7/8] H4PIVOT H1PIVOT M30RES M15RES"},
{"p":1929.69,"k":"7/8","t":"M30[7/8] M15[7/8]"},
{"p":1921.88,"k":"6/8","t":"H4[3/8] H1[3/8] M30[6/8] M15[6/8]"},
{"p":1914.06,"k":"5/8","t":"M30[5/8] M15[5/8]"},
{"p":1906.25,"k":"4/8","t":"H4[2/8] H1[2/8] M30PIVOT M15PIVOT"},
{"p":1898.44,"k":"3/8","t":"M30[3/8] M15[3/8]"},
{"p":1890.62,"k":"2/8","t":"H4[1/8] H1[1/8] M30[2/8] M15[2/8]"},
{"p":1882.81,"k":"1/8","t":"M30[1/8] M15[1/8]"},
{"p":1875.00,"k":"0/8","t":"MN1[7/8] W1[6/8] D1[6/8] H4SUP H1SUP M30SUP M15SUP"},
{"p":1867.19,"k":"-1/8","t":"M30[-1/8] M15[-1/8]"},
{"p":1859.38,"k":"-2/8","t":"H4[-1/8] H1[-1/8] M30[-2/8] M15[-2/8]"},
{"p":1843.75,"k":"T1","t":""},
{"p":1828.12,"k":"T2","t":""}
],
"segs":[
{"a":293.25,"pa":1960.9,"b":344.75,"pb":1910.5,"s":"trend"},
{"a":398.6,"pa":1916.0,"b":429.25,"pb":1862.2,"s":"trend"},
{"a":498.3,"pa":1894.6,"b":544.9,"pb":1843.75,"s":"trend"},
{"a":469.75,"pa":1877.85,"b":487.5,"pb":1890.62,"s":"target"},
{"a":488.75,"pa":1891.1,"b":497.5,"pb":1898.4,"s":"alt"},
{"a":500.0,"pa":1897.2,"b":506.25,"pb":1891.1,"s":"alt"},
{"a":507.1,"pa":1889.9,"b":550.4,"pb":1843.75,"s":"target"},
{"a":550.6,"pa":1843.5,"b":565.1,"pb":1828.6,"s":"alt"}
]
},
"layer":[
{"data":{"name":"levels"},
 "mark":{"type":"rule","strokeWidth":1},
 "encoding":{
  "y":{"field":"p","type":"quantitative","title":null,"scale":{"domain":[1819.89,2003.85],"nice":false,"zero":false},
   "axis":{"orient":"right","values":[2000.25,1994.15,1988.05,1981.90,1975.80,1969.70,1963.60,1957.50,1951.40,1945.30,1939.15,1933.05,1926.95,1920.85,1914.75,1908.65,1902.50,1896.40,1890.30,1884.20,1878.10,1872.00,1865.85,1859.75,1853.65,1847.55,1841.45,1835.35,1829.25,1823.10],
    "format":".2f","title":null,"grid":true,"gridColor":"#BEBEBE","gridDash":[3,3],"gridWidth":1,
    "domainColor":"black","domainWidth":1,"tickColor":"black","tickSize":5,
    "labelAlign":"left","labelBaseline":"middle","labelPadding":5,"labelFontSize":18,"labelFont":"Liberation Sans","labelColor":"black","labelFlush":false,"labelOverlap":false}},
  "color":{"field":"k","type":"nominal","legend":null,
   "scale":{"domain":["+2/8","+1/8","8/8","7/8","6/8","5/8","4/8","3/8","2/8","1/8","0/8","-1/8","-2/8","T1","T2"],
    "range":["#C71585","#FF00FF","#1E90FF","#FF8C00","#FF4500","#556B2F","#1E90FF","#556B2F","#FF4500","#FF8C00","#1E90FF","#FF00FF","#C71585","#FF0000","#FF0000"]}},
  "strokeDash":{"field":"k","type":"nominal","legend":null,
   "scale":{"domain":["+2/8","+1/8","8/8","7/8","6/8","5/8","4/8","3/8","2/8","1/8","0/8","-1/8","-2/8","T1","T2"],
    "range":[[18,6],[14,5,3,5],[1,0],[14,5,3,5],[18,6],[14,5,3,5],[18,6],[14,5,3,5],[18,6],[14,5,3,5],[1,0],[14,5,3,5],[18,6],[1,0],[1,0]]}},
  "size":{"field":"k","type":"nominal","legend":null,
   "scale":{"domain":["+2/8","+1/8","8/8","7/8","6/8","5/8","4/8","3/8","2/8","1/8","0/8","-1/8","-2/8","T1","T2"],
    "range":[1,1,1,1,1,1,1,1,1,1,2,1,1,1,1]}}
 }},
{"data":{"name":"bars"},
 "transform":[{"filter":"datum.i == 465"}],
 "mark":{"type":"rule","color":"#C0C0C0","strokeWidth":1},
 "encoding":{"y":{"field":"c","type":"quantitative","title":null,"scale":{"domain":[1819.89,2003.85],"nice":false,"zero":false}}}},
{"data":{"name":"levels"},
 "transform":[{"filter":"datum.t != ''"}],
 "mark":{"type":"text","align":"center","baseline":"alphabetic","dy":19,"fontSize":21,"font":"Liberation Sans"},
 "encoding":{
  "x":{"datum":440.25,"type":"quantitative","title":null,"scale":{"domain":[-0.75,935.25],"nice":false,"zero":false}},
  "y":{"field":"p","type":"quantitative","title":null,"scale":{"domain":[1819.89,2003.85],"nice":false,"zero":false}},
  "text":{"field":"t"},
  "color":{"field":"k","type":"nominal","legend":null}}},
{"data":{"name":"bars"},
 "mark":{"type":"rule","color":"black","strokeWidth":1},
 "encoding":{
  "x":{"field":"i","type":"quantitative","title":null,"scale":{"domain":[-0.75,935.25],"nice":false,"zero":false},
   "axis":{"values":[0,16,32,48,64,80,96,112,128,144,160,176,192,208,224,240,256,272,288,304,320,336,352,368,384,400,416,432,448,464,480,496,512,528,544,560,576,592,608,624,640,656,672,688,704,720,736,752,768,784,800,816,832,848,864,880,896,912,928],
    "title":null,"grid":true,"gridColor":"#BEBEBE","gridDash":[3,3],"gridWidth":1,
    "domainColor":"black","domainWidth":1,
    "tickColor":"black","tickSize":6,"tickWidth":1,
    "tickOpacity":{"condition":{"test":"datum.value % 32 == 0 && datum.value <= 448","value":1},"value":0},
    "labelExpr":"(datum.value % 32 == 0 && datum.value <= 448) ? ['30 Jan 2023','30 Jan 13:30','30 Jan 21:30','31 Jan 06:30','31 Jan 14:30','31 Jan 22:30','1 Feb 07:30','1 Feb 15:30','1 Feb 23:30','2 Feb 08:30','2 Feb 16:30','3 Feb 01:30','3 Feb 09:30','3 Feb 17:30','6 Feb 02:30'][datum.value/32] : ''",
    "labelAlign":"left","labelBaseline":"top","labelPadding":2,"labelFontSize":18,"labelFont":"Liberation Sans","labelColor":"black","labelFlush":false,"labelOverlap":false}},
  "y":{"field":"l","type":"quantitative","title":null,"scale":{"domain":[1819.89,2003.85],"nice":false,"zero":false}},
  "y2":{"field":"h"}}},
{"data":{"name":"bars"},
 "mark":{"type":"bar","width":3,"stroke":"black","strokeWidth":1},
 "encoding":{
  "x":{"field":"i","type":"quantitative","title":null,"scale":{"domain":[-0.75,935.25],"nice":false,"zero":false}},
  "y":{"field":"o","type":"quantitative","title":null,"scale":{"domain":[1819.89,2003.85],"nice":false,"zero":false}},
  "y2":{"field":"c"},
  "fill":{"condition":{"test":"datum.c >= datum.o","value":"white"},"value":"black"}}},
{"data":{"name":"segs"},
 "transform":[{"filter":"datum.s != 'alt'"}],
 "mark":{"type":"rule","strokeWidth":6,"strokeCap":"round"},
 "encoding":{
  "x":{"field":"a","type":"quantitative","title":null,"scale":{"domain":[-0.75,935.25],"nice":false,"zero":false}},
  "y":{"field":"pa","type":"quantitative","title":null,"scale":{"domain":[1819.89,2003.85],"nice":false,"zero":false}},
  "x2":{"field":"b"},"y2":{"field":"pb"},
  "stroke":{"field":"s","type":"nominal","legend":null,"scale":{"domain":["trend","target","alt"],"range":["#4558F0","#FF4444","#FF4444"]}}}},
{"data":{"name":"segs"},
 "transform":[{"filter":"datum.s == 'alt'"}],
 "mark":{"type":"rule","strokeWidth":6,"strokeCap":"butt","strokeDash":[6,5]},
 "encoding":{
  "x":{"field":"a","type":"quantitative","title":null,"scale":{"domain":[-0.75,935.25],"nice":false,"zero":false}},
  "y":{"field":"pa","type":"quantitative","title":null,"scale":{"domain":[1819.89,2003.85],"nice":false,"zero":false}},
  "x2":{"field":"b"},"y2":{"field":"pb"},
  "stroke":{"field":"s","type":"nominal","legend":null,"scale":{"domain":["trend","target","alt"],"range":["#4558F0","#FF4444","#FF4444"]}}}},
{"data":{"name":"segs"},
 "transform":[{"filter":"datum.s != 'trend'"},
  {"calculate":"sqrt(16*pow(datum.b-datum.a,2)+113.17*pow(datum.pb-datum.pa,2))","as":"len"},
  {"calculate":"datum.b - 9*(datum.b-datum.a)/datum.len","as":"hx"},
  {"calculate":"datum.pb - 9*(datum.pb-datum.pa)/datum.len","as":"hp"},
  {"calculate":"atan2(4*(datum.b-datum.a), 10.638*(datum.pb-datum.pa))*180/PI","as":"ang"}],
 "mark":{"type":"point","shape":"triangle-up","filled":true,"size":420,"strokeWidth":0,"opacity":1},
 "encoding":{
  "x":{"field":"hx","type":"quantitative","title":null,"scale":{"domain":[-0.75,935.25],"nice":false,"zero":false}},
  "y":{"field":"hp","type":"quantitative","title":null,"scale":{"domain":[1819.89,2003.85],"nice":false,"zero":false}},
  "angle":{"field":"ang","type":"quantitative","scale":null},
  "fill":{"field":"s","type":"nominal","legend":null,"scale":{"domain":["trend","target","alt"],"range":["#4558F0","#FF4444","#FF4444"]}}}},
{"data":{"name":"levels"},
 "transform":[{"filter":"datum.k == 'T1' || datum.k == 'T2'"}],
 "mark":{"type":"point","shape":"square","filled":false,"size":49,"strokeWidth":1.5,"color":"#FF0000","opacity":1},
 "encoding":{
  "x":{"datum":934.4,"type":"quantitative","title":null,"scale":{"domain":[-0.75,935.25],"nice":false,"zero":false}},
  "y":{"field":"p","type":"quantitative","title":null,"scale":{"domain":[1819.89,2003.85],"nice":false,"zero":false}}}},
{"data":{"name":"levels"},
 "transform":[{"filter":"datum.k == 'T1' || datum.k == 'T2'"}],
 "mark":{"type":"point","shape":"square","filled":false,"size":25,"strokeWidth":1.2,"color":"#FF0000","opacity":1},
 "encoding":{
  "x":{"datum":-0.3,"type":"quantitative","title":null,"scale":{"domain":[-0.75,935.25],"nice":false,"zero":false}},
  "y":{"field":"p","type":"quantitative","title":null,"scale":{"domain":[1819.89,2003.85],"nice":false,"zero":false}}}},
{"data":{"name":"levels"},
 "mark":{"type":"point","shape":"M-1,-0.2625H1V0.2625H-1Z","filled":true,"size":6400,"strokeWidth":0,"opacity":1},
 "encoding":{
  "x":{"datum":945.5,"type":"quantitative","title":null,"scale":{"domain":[-0.75,935.25],"nice":false,"zero":false}},
  "y":{"field":"p","type":"quantitative","title":null,"scale":{"domain":[1819.89,2003.85],"nice":false,"zero":false}},
  "color":{"field":"k","type":"nominal","legend":null}}},
{"data":{"name":"levels"},
 "mark":{"type":"text","align":"center","baseline":"middle","fontSize":18,"font":"Liberation Sans","color":"white"},
 "encoding":{
  "x":{"datum":945.5,"type":"quantitative","title":null,"scale":{"domain":[-0.75,935.25],"nice":false,"zero":false}},
  "y":{"field":"p","type":"quantitative","title":null,"scale":{"domain":[1819.89,2003.85],"nice":false,"zero":false}},
  "text":{"field":"p","format":".2f"}}},
{"data":{"name":"bars"},
 "transform":[{"filter":"datum.i == 465"}],
 "mark":{"type":"point","shape":"M-1,-0.2625H1V0.2625H-1Z","filled":true,"size":6400,"strokeWidth":0,"color":"black","opacity":1},
 "encoding":{
  "x":{"datum":945.5,"type":"quantitative","title":null,"scale":{"domain":[-0.75,935.25],"nice":false,"zero":false}},
  "y":{"field":"c","type":"quantitative","title":null,"scale":{"domain":[1819.89,2003.85],"nice":false,"zero":false}}}},
{"data":{"name":"bars"},
 "transform":[{"filter":"datum.i == 465"}],
 "mark":{"type":"text","align":"center","baseline":"middle","fontSize":18,"font":"Liberation Sans","color":"white"},
 "encoding":{
  "x":{"datum":945.5,"type":"quantitative","title":null,"scale":{"domain":[-0.75,935.25],"nice":false,"zero":false}},
  "y":{"field":"c","type":"quantitative","title":null,"scale":{"domain":[1819.89,2003.85],"nice":false,"zero":false}},
  "text":{"field":"c","format":".2f"}}},
{"data":{"name":"bars"},
 "transform":[{"filter":"datum.i == 465"}],
 "mark":{"type":"text","align":"left","baseline":"middle","fontSize":18,"font":"Liberation Sans","color":"black"},
 "encoding":{
  "x":{"datum":6.25,"type":"quantitative","title":null,"scale":{"domain":[-0.75,935.25],"nice":false,"zero":false}},
  "y":{"datum":2002.3,"type":"quantitative","title":null,"scale":{"domain":[1819.89,2003.85],"nice":false,"zero":false}},
  "text":{"value":"XAUUSD,M15\u00a0\u00a01878.44 1878.71 1877.15 1877.26"}}},
{"data":{"name":"bars"},
 "transform":[{"filter":"datum.i == 465"}],
 "mark":{"type":"point","shape":"triangle-down","filled":true,"size":110,"color":"black","strokeWidth":0,"opacity":1},
 "encoding":{
  "x":{"datum":1.75,"type":"quantitative","title":null,"scale":{"domain":[-0.75,935.25],"nice":false,"zero":false}},
  "y":{"datum":2002.3,"type":"quantitative","title":null,"scale":{"domain":[1819.89,2003.85],"nice":false,"zero":false}}}},
{"data":{"name":"bars"},
 "transform":[{"filter":"datum.i == 0"}],
 "mark":{"type":"point","shape":"M-1,-1L-1,0.794L-0.578,0.372L-0.261,1.006L-0.05,0.9L-0.367,0.267L0.161,0.267Z","filled":true,"size":1296,"fill":"white","stroke":"black","strokeWidth":1.2,"opacity":1},
 "encoding":{
  "x":{"datum":39.65,"type":"quantitative","title":null,"scale":{"domain":[-0.75,935.25],"nice":false,"zero":false}},
  "y":{"datum":1916.19,"type":"quantitative","title":null,"scale":{"domain":[1819.89,2003.85],"nice":false,"zero":false}}}},
{"data":{"name":"bars"},
 "transform":[{"filter":"datum.i == 465"}],
 "mark":{"type":"point","shape":"triangle-down","filled":true,"size":90,"color":"#A0A0A0","strokeWidth":0,"opacity":1},
 "encoding":{
  "x":{"field":"i","type":"quantitative","title":null,"scale":{"domain":[-0.75,935.25],"nice":false,"zero":false}},
  "y":{"datum":2003.5,"type":"quantitative","title":null,"scale":{"domain":[1819.89,2003.85],"nice":false,"zero":false}}}}
]
}
